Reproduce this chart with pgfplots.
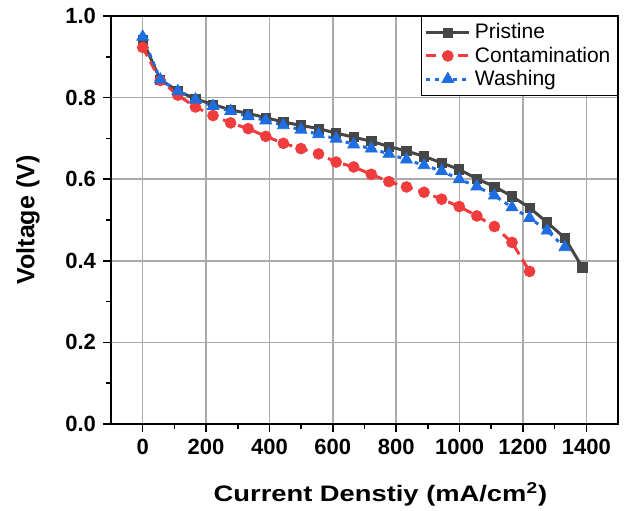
\documentclass[border=0pt]{standalone}
\usepackage{pgfplots}
\pgfplotsset{compat=1.18}
\usepackage{fontspec}
\setmainfont{Liberation Sans}
\newfontfamily\xlabfont[FakeStretch=1.22]{Liberation Sans}
\definecolor{cpri}{RGB}{70,70,70}
\definecolor{ccon}{RGB}{240,60,60}
\definecolor{cwas}{RGB}{30,110,225}
\definecolor{cgrid}{RGB}{170,170,170}
\begin{document}
\begin{tikzpicture}
\begin{axis}[
  scale only axis, width=253.5pt, height=204pt,
  xmin=-100, xmax=1500, ymin=0, ymax=1.0,
  xtick={0,200,...,1400}, ytick={0,0.2,0.4,0.6,0.8,1.0},
  minor x tick num=1, minor y tick num=1,
  tick align=outside, xtick pos=bottom, ytick pos=left,
  major tick length=4pt, minor tick length=2.5pt,
  axis line style={line width=1pt}, tick style={line width=0.8pt, black},
  xmajorgrids=true, ymajorgrids=true,
  x grid style={solid, draw=cgrid, line width=0.8pt},
  y grid style={solid, draw=cgrid, line width=0.8pt},
  ticklabel style={font=\fontsize{11}{13}\selectfont\bfseries},
  /pgf/number format/assume math mode=true,
  yticklabel style={/pgf/number format/fixed, /pgf/number format/fixed zerofill, /pgf/number format/precision=1},
  xticklabel style={/pgf/number format/1000 sep={}},
  xlabel={\xlabfont\fontsize{11.2}{13}\selectfont\bfseries Current Denstiy (mA/cm\textsuperscript{2})},
  ylabel={\fontsize{12.5}{14}\selectfont\bfseries Voltage (V)},
  xlabel style={yshift=-7pt, xshift=8pt}, ylabel style={yshift=6pt},
  legend style={at={(1,1)}, anchor=north east, draw=black, line width=0.6pt, font=\fontsize{10.5}{12}\selectfont, row sep=-1.5pt, inner sep=1.5pt},
  legend cell align=left,
  legend image code/.code={\draw[mark repeat=2,mark phase=2] plot coordinates {(0cm,0cm) (0.38cm,0cm) (0.76cm,0cm)};},
]
\addplot[cpri, line width=1.5pt, mark=square*, mark size=2.3pt, mark options={solid, line width=0.4pt}] coordinates {
(0,0.940)(55.5,0.844)(111,0.816)(166.5,0.797)(222,0.783)(277.5,0.770)(333,0.761)(388.5,0.751)(444,0.740)(499.5,0.732)(555,0.724)(610.5,0.713)(666,0.703)(721.5,0.693)(777,0.680)(832.5,0.669)(888,0.656)(943.5,0.640)(999,0.624)(1054.5,0.601)(1110,0.582)(1165.5,0.558)(1221,0.530)(1276.5,0.494)(1332,0.456)(1387.5,0.384)};
\addlegendentry{Pristine}
\addplot[ccon, line width=1.5pt, dash pattern=on 5pt off 3pt, mark=*, mark size=2.7pt, mark options={solid, line width=0.4pt}] coordinates {
(0,0.923)(55.5,0.842)(111,0.806)(166.5,0.777)(222,0.756)(277.5,0.738)(333,0.724)(388.5,0.705)(444,0.688)(499.5,0.675)(555,0.662)(610.5,0.642)(666,0.630)(721.5,0.612)(777,0.594)(832.5,0.581)(888,0.568)(943.5,0.551)(999,0.533)(1054.5,0.510)(1110,0.484)(1165.5,0.445)(1221,0.374)};
\addlegendentry{Contamination}
\addplot[cwas, line width=1.5pt, dash pattern=on 2pt off 2.5pt, mark=triangle*, mark size=3.4pt, mark options={solid, line width=0.4pt}] coordinates {
(0,0.949)(55.5,0.844)(111,0.816)(166.5,0.795)(222,0.779)(277.5,0.767)(333,0.754)(388.5,0.744)(444,0.732)(499.5,0.721)(555,0.710)(610.5,0.699)(666,0.685)(721.5,0.675)(777,0.662)(832.5,0.648)(888,0.634)(943.5,0.620)(999,0.600)(1054.5,0.582)(1110,0.560)(1165.5,0.531)(1221,0.505)(1276.5,0.474)(1332,0.433)};
\addlegendentry{Washing}
\end{axis}
\pgfresetboundingbox
\path (current axis.south west) ++(-55.5pt,-43pt) rectangle ++(314pt,255pt);
\end{tikzpicture}
\end{document}
